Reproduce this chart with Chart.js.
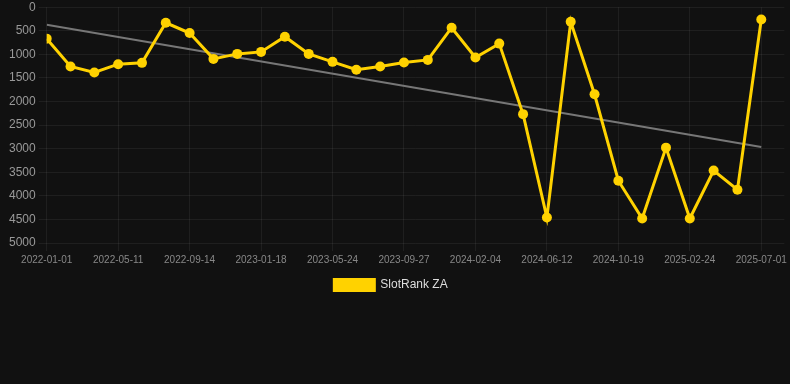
<!DOCTYPE html>
<html>
<head>
<meta charset="utf-8">
<script src="https://cdn.jsdelivr.net/npm/chart.js@4/dist/chart.umd.min.js"></script>
<style>
html,body{margin:0;padding:0;background:#111111;overflow:hidden;}
#wrap{position:relative;top:-3px;width:790px;height:304px;}
</style>
</head>
<body>
<div id="wrap"><canvas id="c"></canvas></div>
<script>
const dates = ["2022-01-01","2022-02-13","2022-03-28","2022-05-11","2022-06-22","2022-08-03","2022-09-14","2022-10-26","2022-12-07","2023-01-18","2023-03-01","2023-04-12","2023-05-24","2023-07-05","2023-08-16","2023-09-27","2023-11-09","2023-12-22","2024-02-04","2024-03-17","2024-04-30","2024-06-12","2024-07-25","2024-09-06","2024-10-19","2024-12-01","2025-01-13","2025-02-24","2025-04-07","2025-05-19","2025-07-01"];
const ranks = [667,1257,1383,1208,1180,330,548,1096,990,948,625,990,1159,1327,1257,1173,1117,435,1067,772,2268,4459,309,1847,3680,4480,2978,4480,3462,3869,260];
const trendEnds = [372,2963];
const yTicks = [0,500,1000,1500,2000,2500,3000,3500,4000,4500,5000];
const seriesName = "SlotRank ZA";

const rankPts = ranks.map((v,i)=>({x:i,y:v}));
const trendPts = [{x:0,y:trendEnds[0]},{x:dates.length-1,y:trendEnds[1]}];

const legendShift = {
  id:'legendShift',
  afterLayout(chart){ if(chart.legend){ chart.legend.left -= 7; chart.legend.right -= 7; } }
};

new Chart(document.getElementById('c'),{
  type:'line',
  data:{datasets:[
    {label:seriesName,data:rankPts,borderColor:'#FFD200',backgroundColor:'#FFD200',borderWidth:3,pointRadius:5,pointHoverRadius:5,pointBackgroundColor:'#FFD200',pointBorderWidth:0,tension:0,order:1},
    {label:'trend',data:trendPts,borderColor:'#777777',borderWidth:2,pointRadius:0,tension:0,order:2}
  ]},
  plugins:[legendShift],
  options:{
    responsive:true,maintainAspectRatio:false,animation:false,
    layout:{padding:{left:6,right:0,top:0,bottom:0}},
    plugins:{
      legend:{position:'bottom',labels:{color:'#dddddd',font:{family:'Liberation Sans, Arial, sans-serif',size:12},boxWidth:40,boxHeight:11,
        filter:(item)=>item.text===seriesName}},
      tooltip:{enabled:false}
    },
    scales:{
      x:{type:'linear',min:0,max:30.97,
        grid:{color:'rgba(255,255,255,0.06)',drawTicks:true,tickLength:8},
        border:{display:false},
        ticks:{stepSize:3,includeBounds:false,autoSkip:false,maxRotation:0,color:'#888888',font:{family:'Liberation Sans, Arial, sans-serif',size:10},
          callback:(v)=>dates[v]!==undefined?dates[v]:''}},
      y:{reverse:true,min:0,max:5000,
        afterBuildTicks:(ax)=>{ax.ticks=yTicks.map(v=>({value:v}));},
        grid:{color:'rgba(255,255,255,0.06)',tickLength:8},
        border:{display:false},
        ticks:{color:'#999999',padding:3,font:{family:'Liberation Sans, Arial, sans-serif',size:12},callback:(v)=>String(v)}}
    }
  }
});
</script>
</body>
</html>
